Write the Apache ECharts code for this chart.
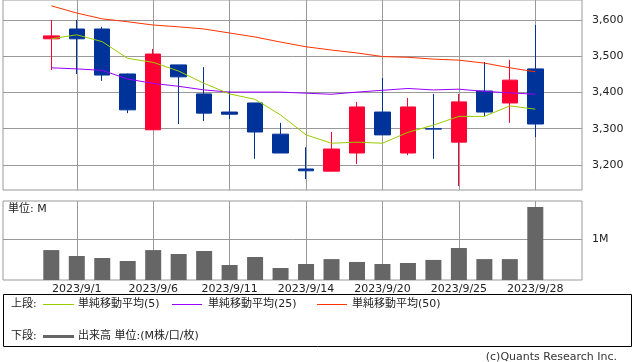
<!DOCTYPE html>
<html>
<head>
<meta charset="utf-8">
<script src="https://cdn.jsdelivr.net/npm/echarts@6/dist/echarts.min.js"></script>
<style>
html,body{margin:0;padding:0;background:#fff;}
#c{width:638px;height:362px;}
</style>
</head>
<body>
<div id="c"></div>
<script>
const dates = ['2023/8/31','2023/9/1','2023/9/4','2023/9/5','2023/9/6','2023/9/7','2023/9/8','2023/9/11','2023/9/12','2023/9/13','2023/9/14','2023/9/15','2023/9/19','2023/9/20','2023/9/21','2023/9/22','2023/9/25','2023/9/26','2023/9/27','2023/9/28'];
const openP  = [3548,3575,3575,3451,3297,3476,3396,3346,3371,3285,3189,3183,3233,3346,3233,3300,3263,3404,3371,3465];
const closeP = [3556,3548,3448,3352,3506,3443,3343,3340,3291,3233,3184,3244,3360,3283,3360,3299,3374,3346,3434,3313];
const lowP   = [3462,3451,3432,3343,3297,3313,3321,3327,3217,3233,3161,3183,3203,3283,3227,3217,3142,3335,3316,3277];
const highP  = [3600,3600,3581,3452,3520,3476,3470,3404,3371,3316,3249,3291,3374,3440,3385,3396,3396,3484,3490,3586];
const ma5  = [3548,3559,3540,3494,3483,3459,3425,3396,3381,3338,3283,3260,3263,3260,3290,3310,3334,3334,3363,3354];
const ma25 = [3468,3465,3461,3437,3425,3417,3407,3401,3401,3401,3398,3395,3401,3406,3411,3407,3409,3403,3399,3395];
const ma50 = [3639,3619,3603,3595,3586,3581,3575,3564,3553,3539,3526,3517,3509,3499,3497,3492,3489,3481,3468,3457];
const volume = [0.73,0.585,0.537,0.463,0.73,0.634,0.707,0.366,0.561,0.293,0.39,0.51,0.44,0.39,0.415,0.49,0.78,0.51,0.51,1.78];
const priceTicks = [3200,3300,3400,3500,3600];
const volTicks = [1];

const FONT = '"DejaVu Sans","Noto Sans CJK JP",sans-serif';
const GRID = '#999999';
const TXT = '#222222';
const UP = '#ff0033', DOWN = '#003399';
const C5 = '#99cc00', C25 = '#9900ff', C50 = '#ff3300';

const candles = openP.map((o, i) => [o, closeP[i], lowP[i], highP[i]]);
const showIdx = (i) => i % 3 === 1;

const chart = echarts.init(document.getElementById('c'), null, {renderer: 'canvas'});

const frameY = (min, max, ticks, fmt) => ({
  type: 'value', min: min, max: max, position: 'right',
  axisLine: {show: false},
  axisTick: {show: true, length: 7, customValues: ticks, lineStyle: {color: GRID}},
  axisLabel: {customValues: ticks, color: TXT, fontSize: 11, fontFamily: FONT, margin: 10, formatter: fmt},
  splitLine: {show: true, lineStyle: {color: GRID, width: 1}}
});

chart.setOption({
  animation: false,
  backgroundColor: '#fff',
  grid: [
    {left: 3, top: 0, width: 579, height: 190, show: true, borderColor: GRID, borderWidth: 1, backgroundColor: 'transparent'},
    {left: 51.3, top: 0, width: 484, height: 190},
    {left: 3, top: 201, width: 579, height: 79, show: true, borderColor: GRID, borderWidth: 1, backgroundColor: 'transparent'},
    {left: 51.3, top: 201, width: 484, height: 79}
  ],
  xAxis: [
    {gridIndex: 0, type: 'value', min: 0, max: 1, show: false},
    {gridIndex: 1, type: 'category', data: dates, boundaryGap: false,
     axisLine: {show: false}, axisTick: {show: false}, axisLabel: {show: false},
     splitLine: {show: true, interval: showIdx, lineStyle: {color: GRID, width: 1}}},
    {gridIndex: 2, type: 'value', min: 0, max: 1, show: false},
    {gridIndex: 3, type: 'category', data: dates, boundaryGap: false,
     axisLine: {show: false}, axisTick: {show: false},
     axisLabel: {show: true, interval: showIdx, color: TXT, fontSize: 11, fontFamily: FONT, margin: 4},
     splitLine: {show: true, interval: showIdx, lineStyle: {color: GRID, width: 1}}}
  ],
  yAxis: [
    Object.assign({gridIndex: 0}, frameY(3131, 3655, priceTicks, (v) => v.toLocaleString('en-US'))),
    {gridIndex: 1, type: 'value', min: 3131, max: 3655, show: false},
    Object.assign({gridIndex: 2}, frameY(0, 1.927, volTicks, (v) => v + 'M')),
    {gridIndex: 3, type: 'value', min: 0, max: 1.927, show: false}
  ],
  series: [
    {type: 'candlestick', xAxisIndex: 1, yAxisIndex: 1, data: candles, barWidth: 16, clip: false,
     itemStyle: {color: UP, color0: DOWN, borderColor: UP, borderColor0: DOWN, borderWidth: 1}},
    {type: 'line', xAxisIndex: 1, yAxisIndex: 1, data: ma50, symbol: 'none', clip: false, lineStyle: {color: C50, width: 1}},
    {type: 'line', xAxisIndex: 1, yAxisIndex: 1, data: ma25, symbol: 'none', clip: false, lineStyle: {color: C25, width: 1}},
    {type: 'line', xAxisIndex: 1, yAxisIndex: 1, data: ma5, symbol: 'none', clip: false, lineStyle: {color: C5, width: 1}},
    {type: 'bar', xAxisIndex: 3, yAxisIndex: 3, data: volume, barWidth: 16, clip: false, itemStyle: {color: '#666666'}}
  ],
  graphic: [
    {type: 'text', left: 8, top: 204, style: {text: '単位: M', font: '11px ' + FONT, fill: TXT}},
    {type: 'rect', shape: {x: 3.5, y: 294.5, width: 628, height: 52}, style: {fill: 'none', stroke: '#000', lineWidth: 1}},
    {type: 'text', x: 11, y: 304, style: {text: '上段:', font: '11px ' + FONT, fill: TXT, verticalAlign: 'middle'}},
    {type: 'line', shape: {x1: 43, y1: 304.5, x2: 74, y2: 304.5}, style: {stroke: C5, lineWidth: 1}},
    {type: 'text', x: 78, y: 304, style: {text: '単純移動平均(5)', font: '11px ' + FONT, fill: TXT, verticalAlign: 'middle'}},
    {type: 'line', shape: {x1: 172, y1: 304.5, x2: 202, y2: 304.5}, style: {stroke: C25, lineWidth: 1}},
    {type: 'text', x: 208, y: 304, style: {text: '単純移動平均(25)', font: '11px ' + FONT, fill: TXT, verticalAlign: 'middle'}},
    {type: 'line', shape: {x1: 317, y1: 304.5, x2: 347, y2: 304.5}, style: {stroke: C50, lineWidth: 1}},
    {type: 'text', x: 352, y: 304, style: {text: '単純移動平均(50)', font: '11px ' + FONT, fill: TXT, verticalAlign: 'middle'}},
    {type: 'text', x: 11, y: 336, style: {text: '下段:', font: '11px ' + FONT, fill: TXT, verticalAlign: 'middle'}},
    {type: 'line', shape: {x1: 43, y1: 336.5, x2: 74, y2: 336.5}, style: {stroke: '#666666', lineWidth: 3}},
    {type: 'text', x: 78, y: 336, style: {text: '出来高 単位:(M株/口/枚)', font: '11px ' + FONT, fill: TXT, verticalAlign: 'middle'}},
    {type: 'text', x: 617, y: 357, style: {text: '(c)Quants Research Inc.', font: '11px ' + FONT, fill: '#333', align: 'right', verticalAlign: 'middle'}}
  ]
});
</script>
</body>
</html>
